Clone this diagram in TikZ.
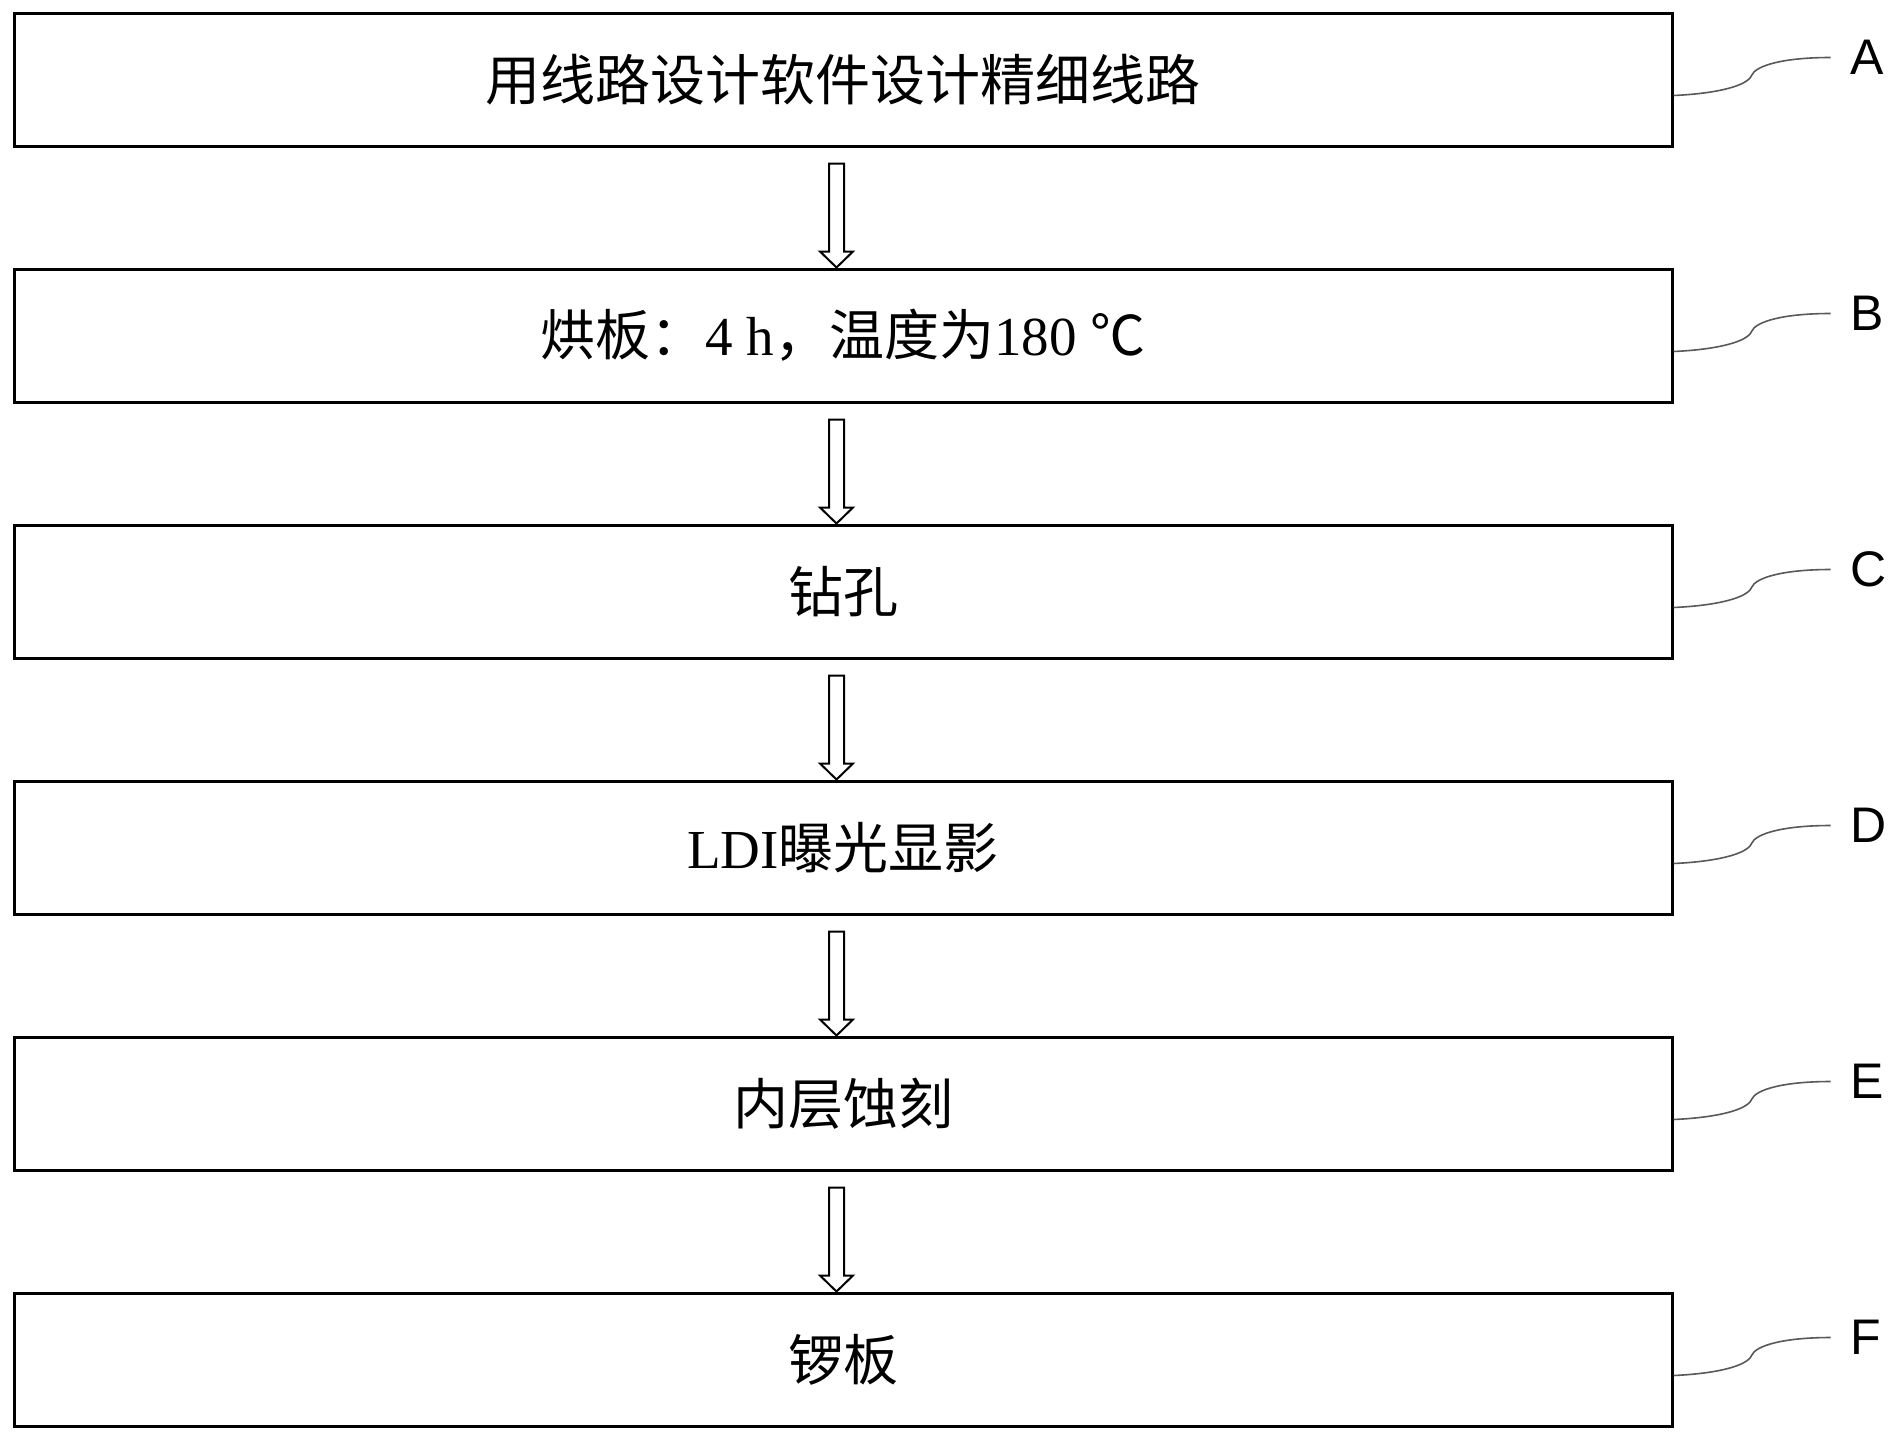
\documentclass[tikz,border=0pt]{standalone}
\usepackage{fontspec}
\setmainfont{Liberation Serif}
\newfontfamily\cjk{Noto Sans CJK SC}
\newfontfamily\labfont{Liberation Sans}
\usetikzlibrary{calc}
\newcommand\flowarrow[2]{%
  \coordinate (#1top) at ($(#1.south)+(-6.5,16)$);
  \coordinate (#1tip) at ($(#2.north)+(-6.5,0)$);
  \draw[arrowline] ($(#1top)+(-7.5,0)$) -- ($(#1tip)+(-7.5,-16)$) -- ($(#1tip)+(-16.5,-16)$)
     -- (#1tip) -- ($(#1tip)+(16.5,-16)$) -- ($(#1tip)+(7.5,-16)$) -- ($(#1top)+(7.5,0)$) -- cycle;
}
\newcommand\steplabel[2]{%
  \coordinate (#1s) at ($(#1.east)+(0,16)$);
  \coordinate (#1e) at ($(#1s)+(157,-38)$);
  \draw[leadline] (#1s) .. controls ($(#1s)+(45,-2)$) and ($(#1s)+(74,-10)$) .. ($(#1s)+(78,-20)$)
     .. controls ($(#1s)+(82,-30)$) and ($(#1s)+(110,-38)$) .. (#1e);
  \node[letter] (#1lab) at ($(#1e)+(20,0)$) {#2};
}
\begin{document}
\begin{tikzpicture}[x=0.5pt,y=-0.5pt,
  stepbox/.style={draw=black,line width=1.5pt,fill=white,minimum width=829pt,minimum height=66.5pt,inner sep=0pt,
     font=\fontsize{27.5}{33}\selectfont},
  arrowline/.style={draw=black,line width=1pt,line join=miter,fill=white},
  leadline/.style={draw=black!65,line width=0.8pt},
  letter/.style={anchor=west,inner sep=0pt,font=\labfont\fontsize{25}{30}\selectfont}]
\useasboundingbox (0,0) rectangle (1898,1440);
\fill[white] (0,0) rectangle (1898,1440);
\node[stepbox] (A) at (843,79.5) {\cjk 用线路设计软件设计精细线路};
\node[stepbox] (B) at (843,335.5) {{\cjk 烘板：}4 h{\cjk ，温度为}180 {\cjk ℃}};
\node[stepbox] (C) at (843,591.5) {\cjk 钻孔};
\node[stepbox] (D) at (843,847.5) {LDI{\cjk 曝光显影}};
\node[stepbox] (E) at (843,1103.5) {\cjk 内层蚀刻};
\node[stepbox] (F) at (843,1359.5) {\cjk 锣板};
\flowarrow{A}{B}
\flowarrow{B}{C}
\flowarrow{C}{D}
\flowarrow{D}{E}
\flowarrow{E}{F}
\steplabel{A}{A}
\steplabel{B}{B}
\steplabel{C}{C}
\steplabel{D}{D}
\steplabel{E}{E}
\steplabel{F}{F}
\end{tikzpicture}
\end{document}
